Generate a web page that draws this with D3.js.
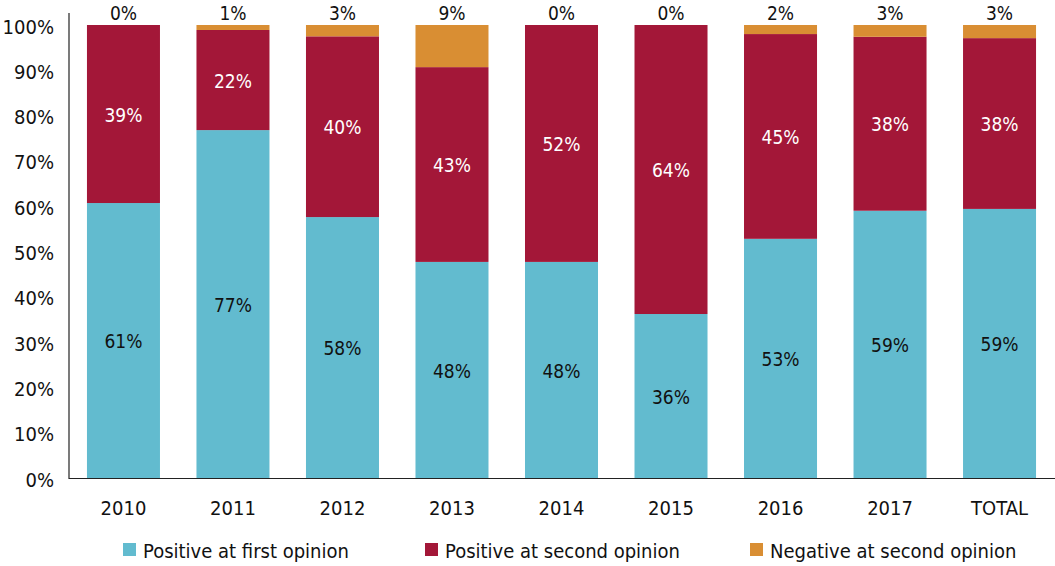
<!DOCTYPE html>
<html><head><meta charset="utf-8">
<script src="https://cdn.jsdelivr.net/npm/d3@7"></script>
<style>body{margin:0;background:#fff}svg{display:block}text{font-family:"Liberation Sans Narrow","DejaVu Sans Condensed","Roboto",sans-serif}</style>
</head><body><svg id="c" width="1055" height="566"></svg>
<script>
const categories = ["2010","2011","2012","2013","2014","2015","2016","2017","TOTAL"];
const positiveFirst = [60.7, 76.8, 57.6, 47.7, 47.7, 36.2, 52.8, 59.0, 59.4];
const positiveSecond = [39.3, 22.1, 39.9, 43.0, 52.3, 63.8, 45.2, 38.4, 37.7];
const negativeSecond = [0.0, 1.1, 2.5, 9.3, 0.0, 0.0, 2.0, 2.6, 2.9];
const seriesNames = ["Positive at first opinion","Positive at second opinion","Negative at second opinion"];
const yTicks = [0,10,20,30,40,50,60,70,80,90,100];
const colors = ["#62BBCF","#A31738","#D98E33"];

(function(){
const svg = d3.select("#c");
const mLeft = 69, mRight = 1054, mTop = 25, mBottom = 478;
const x = d3.scaleBand().domain(categories).range([mLeft, mRight]).paddingInner(1/3).paddingOuter(0.164);
const y = d3.scaleLinear().domain([0,100]).range([mBottom, mTop]);

const rows = categories.map((c,i)=>({cat:c, s0:positiveFirst[i], s1:positiveSecond[i], s2:negativeSecond[i]}));
const stack = d3.stack().keys(["s0","s1","s2"])(rows);

stack.forEach((layer, li) => {
  svg.append("g").selectAll("rect").data(layer).join("rect")
    .attr("x", d => x(d.data.cat))
    .attr("width", x.bandwidth())
    .attr("y", d => y(d[1]))
    .attr("height", d => y(d[0]) - y(d[1]))
    .attr("fill", colors[li]);
});

const fmt = v => Math.round(v) + "%";
[0,1].forEach(li => {
  svg.append("g").selectAll("text").data(stack[li]).join("text")
    .attr("x", d => x(d.data.cat) + x.bandwidth()/2)
    .attr("y", d => (y(d[0]) + y(d[1]))/2 + 1)
    .attr("dy", "0.35em")
    .attr("text-anchor", "middle")
    .attr("font-size", 19)
    .attr("fill", li === 0 ? "#111" : "#fff")
    .text(d => fmt(d.data[li===0?"s0":"s1"]));
});
svg.append("g").selectAll("text").data(stack[2]).join("text")
  .attr("x", d => x(d.data.cat) + x.bandwidth()/2)
  .attr("y", y(100) - 12)
  .attr("dy", "0.35em")
  .attr("text-anchor", "middle")
  .attr("font-size", 19)
  .attr("fill", "#111")
  .text(d => fmt(d.data.s2));

const yAxis = d3.axisLeft(y).tickValues(yTicks).tickFormat(d => d + "%").tickSize(0).tickPadding(15);
const gy = svg.append("g").attr("transform", `translate(${mLeft},0)`).call(yAxis);
gy.select(".domain").remove();
gy.selectAll("text").attr("font-size", 20).attr("fill", "#111").attr("dy", "0.4em");
gy.attr("font-family", null);
svg.append("line").attr("x1", mLeft).attr("x2", mLeft).attr("y1", 13).attr("y2", mBottom+1).attr("stroke", "#222").attr("stroke-width", 1.2);

const xAxis = d3.axisBottom(x).tickSize(0).tickPadding(23);
const gx = svg.append("g").attr("transform", `translate(0,${mBottom})`).call(xAxis);
gx.select(".domain").remove();
gx.selectAll("text").attr("font-size", 20).attr("fill", "#111");
gx.attr("font-family", null);
svg.append("line").attr("x1", mLeft).attr("x2", 1055).attr("y1", mBottom+0.5).attr("y2", mBottom+0.5).attr("stroke", "#222").attr("stroke-width", 1.2);

const legendX = [123, 425, 750];
const lg = svg.append("g").selectAll("g").data(seriesNames).join("g")
  .attr("transform", (d,i) => `translate(${legendX[i]},543)`);
lg.append("rect").attr("width", 13).attr("height", 13).attr("fill", (d,i) => colors[i]);
lg.append("text").attr("x", 20).attr("y", 8).attr("dy", "0.35em").attr("font-size", 20).attr("fill", "#111").text(d => d);
})();
</script></body></html>
